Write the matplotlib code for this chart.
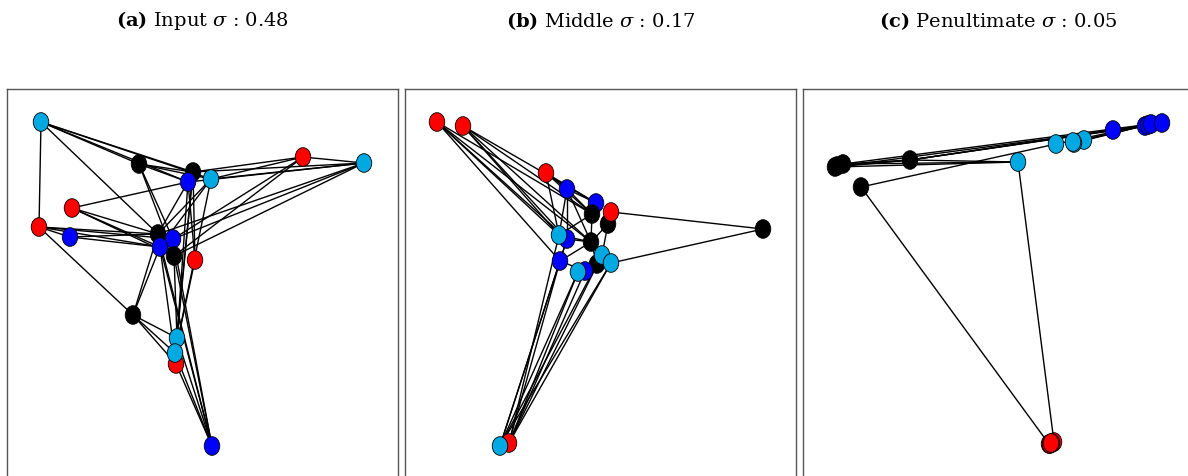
import numpy as np
import matplotlib
matplotlib.use('Agg')
import matplotlib.pyplot as plt
from matplotlib.path import Path
from matplotlib.transforms import Affine2D

plt.rcParams['font.family'] = ['DejaVu Serif']
plt.rcParams['mathtext.fontset'] = 'custom'
plt.rcParams['mathtext.rm'] = 'DejaVu Serif'
plt.rcParams['mathtext.it'] = 'DejaVu Serif:italic'
plt.rcParams['mathtext.bf'] = 'DejaVu Serif:bold'

# colour classes: R red, B blue, L light blue, K black
class_colors = {'R': '#ff0000', 'B': '#0000ff', 'L': '#00a9e2', 'K': '#000000'}

titles = [r'$\mathbf{(a)}$ Input $\sigma$ : 0.48',
          r'$\mathbf{(b)}$ Middle $\sigma$ : 0.17',
          r'$\mathbf{(c)}$ Penultimate $\sigma$ : 0.05']

# ---- (a) input layer embedding
a_x = [34, 132, 186, 181, 204, 296, 357, 65, 32, 63, 151, 166, 153, 167, 188, 126, 170, 169, 168, 205]
a_y = [358, 316, 308, 298, 301, 323, 317, 272, 253, 243, 246, 241, 233, 224, 220, 165, 142, 116, 127, 34]
a_cls = ['L', 'K', 'K', 'B', 'L', 'R', 'L', 'R', 'R', 'B', 'K', 'B', 'B', 'K', 'R', 'K', 'L', 'R', 'L', 'B']
a_edges = [(0, 8), (0, 1), (0, 2), (0, 3), (0, 10), (0, 4),
           (1, 2), (1, 3), (1, 11), (1, 13), (1, 4),
           (2, 5), (2, 6), (2, 16), (2, 18),
           (3, 7), (3, 14), (3, 16), (3, 10),
           (4, 5), (4, 6), (4, 18), (4, 12), (4, 10),
           (5, 6), (5, 13), (5, 11),
           (6, 10), (6, 11), (6, 13), (6, 3),
           (7, 10), (7, 12), (7, 13),
           (8, 9), (8, 10), (8, 12), (8, 15), (8, 11),
           (9, 10), (9, 12), (10, 11), (10, 13),
           (15, 10), (15, 12), (15, 16), (15, 18), (15, 17),
           (19, 10), (19, 11), (19, 12), (19, 13), (19, 16), (19, 18), (19, 17),
           (14, 18), (14, 2), (13, 16), (12, 17)]

# ---- (b) middle layer embedding
b_x = [32, 58, 141, 162, 191, 187, 203, 206, 162, 154, 186, 155, 192, 180, 173, 197, 206, 358, 104, 95]
b_y = [358, 354, 307, 291, 277, 266, 256, 268, 241, 245, 238, 219, 216, 209, 208, 225, 217, 251, 37, 34]
b_cls = ['R', 'R', 'R', 'B', 'B', 'K', 'K', 'R', 'B', 'L', 'K', 'B', 'K', 'B', 'L', 'L', 'L', 'K', 'R', 'L']
b_edges = [(0, 9), (0, 8), (0, 10), (0, 11), (0, 5),
           (1, 9), (1, 8), (1, 10), (1, 5), (1, 4),
           (2, 3), (2, 4), (2, 5), (2, 9),
           (3, 5), (3, 4), (3, 9), (3, 8), (3, 10),
           (4, 5), (7, 17), (16, 17), (7, 6),
           (5, 10), (6, 10), (8, 10), (9, 10), (10, 12), (10, 15), (6, 15), (5, 9),
           (11, 8), (11, 10), (11, 13), (13, 14), (12, 16),
           (18, 9), (18, 11), (18, 14), (18, 13), (18, 15), (18, 16),
           (19, 8), (19, 11), (19, 14), (19, 12), (19, 16)]

# ---- (c) penultimate layer embedding
c_x = [32, 40, 107, 58, 34, 215, 253, 281, 271, 270, 310, 342, 345, 348, 359, 246, 251, 247, 249, 248]
c_y = [313, 316, 320, 293, 314, 318, 336, 340, 337, 338, 350, 354, 355, 356, 357, 36, 38, 36, 37, 37]
c_cls = ['K', 'K', 'K', 'K', 'K', 'L', 'L', 'L', 'L', 'L', 'B', 'B', 'B', 'B', 'B', 'R', 'R', 'R', 'R', 'R']
c_edges = [(0, 2), (1, 2), (4, 2), (0, 5), (1, 5), (2, 5),
           (2, 10), (2, 11), (2, 12), (1, 13), (0, 11),
           (3, 6), (3, 15), (5, 16),
           (6, 13), (7, 13), (8, 13), (9, 12), (10, 13)]

panels = [(a_x, a_y, a_cls, a_edges), (b_x, b_y, b_cls, b_edges), (c_x, c_y, c_cls, c_edges)]

# slightly tall ellipse marker
ellipse = Path.unit_circle().transformed(Affine2D().scale(1.0, 1.2))

W, H = 1188, 477
fig = plt.figure(figsize=(W / 100, H / 100), dpi=100)

lefts = [7, 405, 803]
for k in range(3):
    xs, ys, cls, edges = panels[k]
    ax = fig.add_axes([lefts[k] / W, (H - 481) / H, 391 / W, 391 / H])
    for i, j in edges:
        ax.plot([xs[i], xs[j]], [ys[i], ys[j]], color='black', lw=1.0, zorder=1)
    cols = [class_colors[c] for c in cls]
    ax.scatter(xs, ys, s=180, c=cols, marker=ellipse, edgecolors='black', linewidths=0.6, zorder=2)
    ax.set_xlim(0, 391)
    ax.set_ylim(0, 391)
    ax.set_xticks([])
    ax.set_yticks([])
    for sp in ax.spines.values():
        sp.set_color('#555555')
        sp.set_linewidth(1.0)
    if k == 2:
        # the last frame runs past the right edge of the picture
        ax.spines['right'].set_visible(False)
    fig.text((lefts[k] + 195.5) / W, 1 - 21 / H, titles[k], ha='center', va='center', fontsize=14)

fig.savefig('out.png', dpi=100)
